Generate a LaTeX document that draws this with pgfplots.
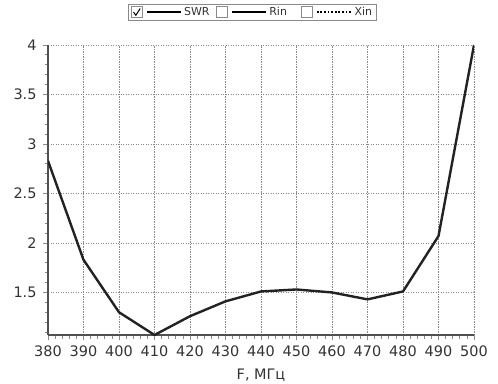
\documentclass[border=0pt]{standalone}
\usepackage{pgfplots}
\pgfplotsset{compat=1.18}
\usepackage{fontspec}
\setmainfont{DejaVu Sans}
\definecolor{axisgray}{HTML}{505050}
\definecolor{gridgray}{HTML}{8A8A8A}
\definecolor{txtgray}{HTML}{333333}
\definecolor{curve}{HTML}{222222}

\begin{document}
\begin{tikzpicture}[x=1bp,y=1bp]
\path[use as bounding box] (0,0) rectangle (498,383);
\begin{axis}[
  at={(48bp,48bp)}, anchor=origin,
  scale only axis, width=426bp, height=290bp,
  xmin=380, xmax=500, ymin=1.07, ymax=4,
  xtick={380,390,...,500},
  ytick={1,1.5,...,4},
  minor x tick num=4, minor y tick num=4,
  axis x line=bottom, axis y line=left,
  axis line style={axisgray, line width=1.8bp, -},
  tick align=outside,
  major tick length=5bp, minor tick length=3.5bp,
  every tick/.style={gridgray, line width=0.8bp},
  grid=major,
  major grid style={gridgray, line width=0.8bp, dash pattern=on 1.2bp off 1.3bp},
  tick label style={font=\fontsize{14.5}{16}\selectfont, text=txtgray},
  /pgf/number format/assume math mode=true,
  xticklabel style={yshift=-2bp},
  yticklabel style={xshift=-3bp},
  xlabel={F, МГц},
  xlabel style={font=\fontsize{14.5}{16}\selectfont, text=txtgray, yshift=-6bp},
  legend columns=3,
  legend style={at={(0.480,1.1414)}, anchor=north, draw=gridgray,
    line width=0.8bp,
    font=\fontsize{11}{12}\selectfont, text=txtgray,
    inner xsep=2bp, inner ysep=1bp,
    /tikz/every even column/.append style={column sep=0bp}},
  legend cell align=left,
]
\addplot[curve, line width=2.4bp,
  legend image code/.code={
    \draw[gridgray, line width=0.7bp, fill=white] (0bp,-5.5bp) rectangle (11bp,5.5bp);
    \draw[black, line width=1bp] (2.3bp,0.3bp) -- (4.6bp,-3bp) -- (9bp,3.8bp);
    \draw[black, line width=1.8bp] (16bp,0bp) -- (50bp,0bp);
  }] coordinates {
  (380,2.83) (390,1.83) (400,1.30) (410,1.07) (420,1.26) (430,1.41)
  (440,1.51) (450,1.53) (460,1.50) (470,1.43) (480,1.51) (490,2.07) (500,4.00)
};
\addlegendentry{\makebox[30bp][l]{SWR}}
\addlegendimage{legend image code/.code={
    \draw[gridgray, line width=0.7bp, fill=white] (0bp,-5.5bp) rectangle (11bp,5.5bp);
    \draw[black, line width=1.8bp] (16bp,0bp) -- (50bp,0bp);
  }}
\addlegendentry{\makebox[30bp][l]{Rin}}
\addlegendimage{legend image code/.code={
    \draw[gridgray, line width=0.7bp, fill=white] (0bp,-5.5bp) rectangle (11bp,5.5bp);
    \draw[black, line width=1.8bp, dash pattern=on 1.8bp off 1.8bp] (15bp,0bp) -- (50bp,0bp);
  }}
\addlegendentry{Xin}
\end{axis}
\end{tikzpicture}
\end{document}
